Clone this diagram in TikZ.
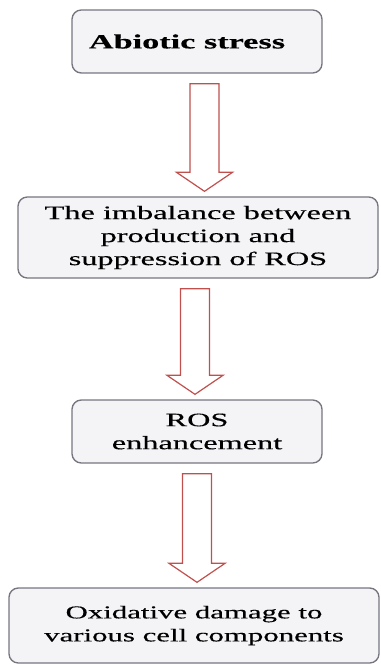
\documentclass[tikz,border=0pt]{standalone}
\usepackage{fontspec}
\setmainfont{Liberation Serif}[FakeStretch=1.7, FakeBold=0.4]
\usepackage{xcolor}
\definecolor{boxgray}{RGB}{118,118,128}
\definecolor{boxfill}{RGB}{244,244,247}
\definecolor{arrowred}{RGB}{192,80,77}
\usepackage{tikz}
\usetikzlibrary{calc}
\tikzset{
    stage/.style={draw=boxgray, fill=boxfill, line width=1pt, rounded corners=7pt,
        align=center, font=\fontsize{14.25pt}{17.25pt}\selectfont, inner sep=0pt},
    narrow/.style={stage, minimum width=187.5pt, minimum height=47.25pt},
    hollow/.style={draw=arrowred, fill=white, line width=0.9pt, line join=miter}
}

\begin{document}
\begin{tikzpicture}[x=0.75pt, y=-0.75pt]

      \useasboundingbox (0,0) rectangle (380,666);

      % shaft 10.875pt half width, head 21pt half width, 14.25pt long
      \newcommand\hollowarrow[3]{
        \draw[hollow]
          let \p1 = ($(#1.south)+(#3,10)$), \p2 = ($(#2.north)+(#3,-5)$) in
          (\x1-10.875pt,\y1) -- (\x1+10.875pt,\y1)
          -- (\x1+10.875pt,\y2+14.25pt) -- (\x1+21pt,\y2+14.25pt)
          -- (\x1,\y2)
          -- (\x1-21pt,\y2+14.25pt) -- (\x1-10.875pt,\y2+14.25pt) -- cycle;
      }

      \path
          (197,41.5) node[narrow, font=\fontsize{15.1pt}{18pt}\selectfont\bfseries] (abiotic)
              {Abiotic stress\hspace*{15pt}}
          (198,237.5) node[stage, minimum width=270pt, minimum height=60.75pt] (imbalance)
              {The imbalance between\\production and\\suppression of ROS}
          (197,431.5) node[narrow] (enhance) {ROS\\enhancement}
          (194,625.5) node[stage, minimum width=277.5pt, minimum height=56.25pt,
              font=\fontsize{13.6pt}{17.25pt}\selectfont] (damage)
              {Oxidative damage to\\various cell components};

      \hollowarrow{abiotic}{imbalance}{7.5}
      \hollowarrow{imbalance}{enhance}{-3}
      \hollowarrow{enhance}{damage}{0}
    \end{tikzpicture}
\end{document}
